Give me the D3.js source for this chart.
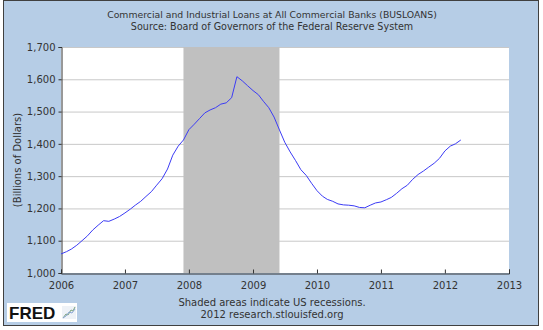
<!DOCTYPE html>
<html><head><meta charset="utf-8">
<script src="https://cdn.jsdelivr.net/npm/d3@7"></script>
<style>
html,body{margin:0;padding:0;background:#fff;}
svg{display:block;font-family:"DejaVu Sans",Verdana,sans-serif;}
</style></head><body>
<svg id="c" width="543" height="330"></svg>
<script>
const title1 = "Commercial and Industrial Loans at All Commercial Banks (BUSLOANS)";
const title2 = "Source: Board of Governors of the Federal Reserve System";
const yLabel = "(Billions of Dollars)";
const note1 = "Shaded areas indicate US recessions.";
const note2 = "2012 research.stlouisfed.org";
const startYear = 2006, startMonth = 0;
// Monthly values, Jan 2006 .. Apr 2012 (billions of dollars)
const values = [
 1059,1066,1074,1086,1100,1115,1133,1148,1162,1160,1167,1175,
 1186,1198,1210,1222,1237,1252,1272,1292,1322,1365,1393,1412,
 1444,1461,1478,1496,1505,1512,1523,1527,1543,1608,1595,1580,
 1565,1552,1532,1512,1483,1443,1405,1375,1348,1320,1302,1278,
 1255,1238,1228,1222,1214,1211,1210,1208,1203,1202,1210,1217,
 1220,1227,1234,1247,1261,1272,1290,1305,1316,1328,1340,1355,
 1378,1393,1400,1412
];
const yTicks = [1000,1100,1200,1300,1400,1500,1600,1700];
const xTickYears = [2006,2007,2008,2009,2010,2011,2012,2013];
const recession = [new Date(2007,11,1), new Date(2009,5,1)];

const data = values.map((v,i)=>({date:new Date(startYear, startMonth+i, 1), value:v}));

const svg = d3.select("#c");
// frame
svg.append("rect").attr("x",3.5).attr("y",0.5).attr("width",535).attr("height",325)
  .attr("fill","#b6cde6").attr("stroke","#404040").attr("stroke-width",1);

const L=61, R=509, T=47, B=273;
const x = d3.scaleTime().domain([new Date(2006,0,1), new Date(2013,0,1)]).range([L,R]);
const y = d3.scaleLinear().domain([1000,1700]).range([B,T]);

svg.append("rect").attr("x",L).attr("y",T).attr("width",R-L).attr("height",B-T).attr("fill","#fff");

// gridlines
svg.append("g").selectAll("line").data(yTicks.slice(1)).join("line")
  .attr("x1",L).attr("x2",R).attr("y1",d=>y(d)+0.5).attr("y2",d=>y(d)+0.5)
  .attr("stroke","#c8c8c8").attr("stroke-width",1);

// recession
svg.append("rect").attr("x",x(recession[0])).attr("y",T)
  .attr("width",x(recession[1])-x(recession[0])).attr("height",B-T).attr("fill","#c0c0c0");

// y axis
const yAxis = d3.axisLeft(y).tickValues(yTicks).tickSize(3).tickPadding(3).tickFormat(d3.format(","));
const gy = svg.append("g").attr("transform",`translate(${L+0.5},0)`).call(yAxis);
gy.select(".domain").attr("stroke","#333");
gy.selectAll(".tick line").attr("stroke","#333");
gy.selectAll("text").attr("fill","#333").style("font-size","10px").style("font-family","DejaVu Sans");

// x axis
const xAxis = d3.axisBottom(x).tickValues(xTickYears.map(yr=>new Date(yr,0,1))).tickSize(-4).tickPadding(8).tickFormat(d3.timeFormat("%Y"));
const gx = svg.append("g").attr("transform",`translate(0,${B+0.5})`).call(xAxis);
gx.select(".domain").attr("stroke","#333");
gx.selectAll(".tick line").attr("stroke","#333");
gx.selectAll("text").attr("fill","#333").style("font-size","10px").style("font-family","DejaVu Sans");

// line
svg.append("path").datum(data)
  .attr("d", d3.line().x(d=>x(d.date)).y(d=>y(d.value)))
  .attr("fill","none").attr("stroke","#3c3cf5").attr("stroke-width",1);

// titles
const tc = "#333";
svg.append("text").attr("x",272).attr("y",18).attr("text-anchor","middle").attr("fill",tc)
  .style("font-size","9.3px").text(title1);
svg.append("text").attr("x",272).attr("y",30).attr("text-anchor","middle").attr("fill",tc)
  .style("font-size","9.6px").text(title2);
svg.append("text").attr("transform","translate(21,160) rotate(-90)").attr("text-anchor","middle")
  .attr("fill",tc).style("font-size","10px").text(yLabel);
svg.append("text").attr("x",272).attr("y",306).attr("text-anchor","middle").attr("fill",tc)
  .style("font-size","10px").text(note1);
svg.append("text").attr("x",272).attr("y",318).attr("text-anchor","middle").attr("fill",tc)
  .style("font-size","10px").text(note2);

// FRED logo
const lg = svg.append("g");
lg.append("rect").attr("x",7).attr("y",303).attr("width",70).attr("height",19).attr("fill","#fff");
lg.append("text").attr("x",9).attr("y",319).attr("fill","#111")
  .style("font-family","Liberation Sans, Arial, sans-serif").style("font-weight","bold").style("font-size","17px")
  .text("FRED");
lg.append("rect").attr("x",62).attr("y",306).attr("width",14).attr("height",13).attr("fill","#eef2f7");
lg.append("path").attr("d","M63,318 L66,314 L68,315 L71,310 L73,311 L75,307").attr("fill","none").attr("stroke","#7aa37a").attr("stroke-width",1);
lg.append("path").attr("d","M63,318 L66,316 L69,312 L72,313 L75,309").attr("fill","none").attr("stroke","#8aa6d6").attr("stroke-width",1);
</script>
</body></html>
